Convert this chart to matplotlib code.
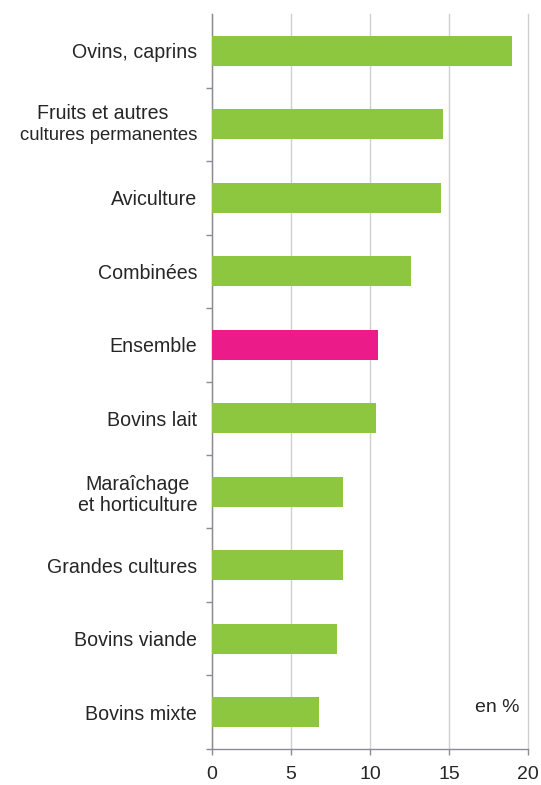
import matplotlib.pyplot as plt
import numpy as np

plt.rcParams['font.family'] = ['Liberation Sans', 'DejaVu Sans']

# données (en %), du haut vers le bas
categories = ["Ovins, caprins", "Fruits et autres\ncultures permanentes", "Aviculture",
              "Combinées", "Ensemble", "Bovins lait", "Maraîchage\net horticulture",
              "Grandes cultures", "Bovins viande", "Bovins mixte"]
values = [19.0, 14.6, 14.5, 12.6, 10.5, 10.4, 8.3, 8.3, 7.9, 6.8]
highlight = "Ensemble"

green = '#8DC63F'
pink = '#EC1B8A'
txt = '#262626'
colors = [pink if c == highlight else green for c in categories]

fig = plt.figure(figsize=(5.41, 7.85), dpi=100)
ax = fig.add_axes([0.392, 0.046, 0.584, 0.936])

n = len(categories)
y = np.arange(n)[::-1]
ax.barh(y, values, height=0.41, color=colors, zorder=3)

ax.set_xlim(0, 20)
ax.set_ylim(-0.5, n - 0.5)
ax.set_xticks([0, 5, 10, 15, 20])
ax.tick_params(axis='x', labelsize=14, colors='#8c8c96', labelcolor=txt,
               length=4.3, width=1, pad=8)

# étiquettes alignées à droite (centrées entre elles), graduations entre les catégories
# le libellé "Fruits..." a une 2e ligne resserrée dans l'original -> tracé à part
long_label = categories[1]
ax.set_yticks(y)
ax.set_yticklabels(["" if c == long_label else c for c in categories], fontsize=14.1,
                   color=txt, ha='right', multialignment='center', linespacing=1.12)
ax.tick_params(axis='y', which='major', length=0, pad=10.8)
ax.set_yticks(np.arange(-0.5, n - 1, 1.0), minor=True)
ax.tick_params(axis='y', which='minor', length=4.3, width=1, colors='#8c8c96')

l1, l2 = long_label.split("\n")
yl = y[categories.index(long_label)]
ax.annotate(l1, xy=(0, yl), xycoords=('axes fraction', 'data'), xytext=(-79, 8),
            textcoords='offset points', ha='center', va='center', fontsize=14.1, color=txt)
ax.annotate(l2, xy=(0, yl), xycoords=('axes fraction', 'data'), xytext=(-10.8, -8),
            textcoords='offset points', ha='right', va='center', fontsize=13.3, color=txt)

ax.xaxis.grid(True, color='#d0d0d0', linewidth=1, zorder=0)
for gl in ax.get_xgridlines():
    gl.set_clip_on(False)
for s in ['top', 'right']:
    ax.spines[s].set_visible(False)
for s in ['left', 'bottom']:
    ax.spines[s].set_color('#8c8c96')
    ax.spines[s].set_linewidth(1)

ax.text(0.973, 0.057, "en %", transform=ax.transAxes, ha='right', va='center',
        fontsize=14, color=txt)

fig.savefig('out.png', dpi=100)
